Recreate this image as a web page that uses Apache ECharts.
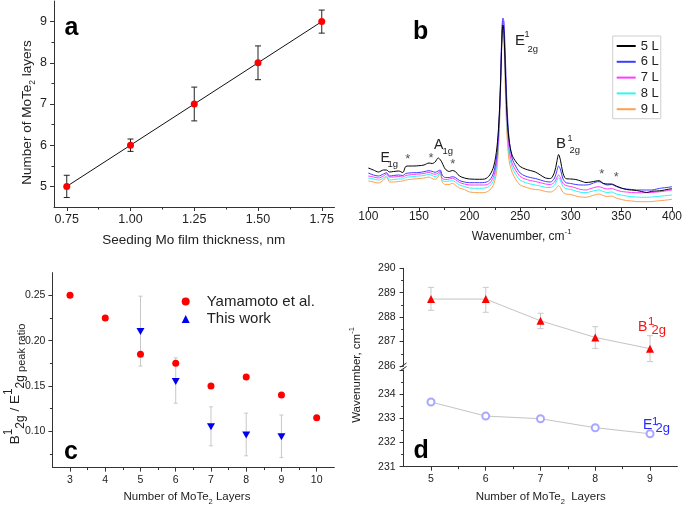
<!DOCTYPE html>
<html>
<head>
<meta charset="utf-8">
<script src="https://cdn.jsdelivr.net/npm/echarts@6/dist/echarts.min.js"></script>
<style>
html,body{margin:0;padding:0;background:#fff;}
#chart{width:685px;height:506px;}
</style>
</head>
<body>
<div id="chart"></div>
<script>
// ---------- Panel a ----------
const aThickness = [0.75, 1.00, 1.25, 1.50, 1.75];
const aLayers = [5, 6, 7, 8, 9];
const aError = [0.27, 0.15, 0.41, 0.41, 0.28];
const aXTicks = [0.75, 1.00, 1.25, 1.50, 1.75];
const aXMinor = [0.875, 1.125, 1.375, 1.625];
const aYTicks = [5, 6, 7, 8, 9];
const aYMinor = [5.5, 6.5, 7.5, 8.5];

// ---------- Panel b (Raman spectra, arbitrary intensity) ----------
const bWave = [100,105,110,115,118,121,125,130,134,137,140,145,150,155,160,163,166,169,171,173,176,180,183,186,190,195,200,210,215,220,224,227,229,230.5,232,233,234,235.5,237,239,242,246,250,255,260,265,270,275,280,284,286,288,290,292,295,300,305,310,315,320,325,328,332,336,340,345,350,355,360,365,370,375,380,385,390,395,400];
const b5L = [39,37,35,37,37,35,35.5,36,34.5,40.5,41,41,41.3,42,44,43.5,45,49,47.5,44,38,35.5,36.5,35.5,31,29,28,27.7,28,32,41,59,85,119,167,182,174,132,92,67,52,45,40.5,38,36.5,35,32,29,28.5,35,44,52.5,46,35,28.5,28,27.5,26,24.5,25,26,26.3,23.7,23,23,21,19,17.5,17,16.5,15.5,14.5,15.7,16,16.5,17.5,18.3];
const b6L = [34,32,31,33,34.3,31,31.5,32,31.5,33.5,34,34.3,34.5,35.3,36.3,35.7,34.7,36,37,32,29.5,29.5,30.3,29.5,26.5,25,24.3,24.3,24.5,27,35,52,82,122,177,189,185,147,102,69,49,40,34,31,29.5,28.5,27,25.5,25,29,35,41,37,29,24.5,23.5,22.5,22,22,23,25,25.3,23.5,22,22.5,20.5,18.7,18,17.5,17,17,17,17,18,19,19.5,20.3];
const b7L = [31,30,29,31,33,30,30,30.5,30,31.5,32,32.5,33,33.5,34.7,33.5,32.7,34,36,29,27.5,28,28.7,27.5,24.5,23,22,22,22,24,31,47,77,117,174,186,179,132,89,59,44,36,30.5,28,26.5,25.5,24.3,23,22.5,25,29,32,29,24,21.5,20.5,19,17.5,17,18.5,20,20.3,19,18,18.5,17,15.5,15,14.5,14.3,14.3,14.3,14.5,15,15.5,16.3,17];
const b8L = [29,28,27,29,31,27,27.5,28,28,29.5,30,30.5,31,31.5,32.7,31.5,30.3,32,35.3,27,25.5,26,26.3,25,22,20.5,19,18.7,19,21,27,43,72,115,172,184,175,125,82,54,40,32,27,24.5,23,22,21,19.7,19.5,22,26,29.3,26,21,18.5,17.5,16,14.7,14.3,15.5,16.7,17,15.5,14.5,15,13,12,11,10.3,10,9.7,9.7,10,10.5,11,11.5,12];
const b9L = [26,25,24,27,30,25,25,25.5,26,27,27.5,28,28.5,29,30,28.5,27.7,30,34.7,25,22.5,22.5,23.7,22,19,17.5,15,14.3,14.5,17,23,37,67,109,169,181,167,112,72,47,35,27,22,20,18.5,17.5,17,15.5,15,17,19.5,21.3,19,15,13,12.5,11,10,9.7,11,12.5,13,11.5,10.5,11,9,7.5,6.5,6,5.5,5.3,5.3,5.5,6,6.5,7,7.7];
const bNames = ['5 L', '6 L', '7 L', '8 L', '9 L'];
const bColors = ['#000000', '#3d3dff', '#ff3cff', '#2ff5f5', '#ffa050'];

// ---------- Panel c ----------
const cYamaLayers = [3, 4, 5, 6, 7, 8, 9, 10];
const cYamaRatio = [0.250, 0.225, 0.185, 0.175, 0.150, 0.160, 0.140, 0.115];
const cWorkLayers = [5, 6, 7, 8, 9];
const cWorkRatio = [0.210, 0.155, 0.105, 0.096, 0.094];
const cWorkHigh = [0.249, 0.181, 0.127, 0.120, 0.118];
const cWorkLow = [0.172, 0.131, 0.084, 0.073, 0.071];
const cXTicks = [3, 4, 5, 6, 7, 8, 9, 10];
const cXMinor = [3.5, 4.5, 5.5, 6.5, 7.5, 8.5, 9.5];
const cYTicks = [0.10, 0.15, 0.20, 0.25];
const cYMinor = [0.075, 0.125, 0.175, 0.225];

// ---------- Panel d ----------
const dLayers = [5, 6, 7, 8, 9];
const dB = [288.74, 288.74, 287.85, 287.17, 286.71];
const dBHigh = [289.22, 289.22, 288.16, 287.61, 287.24];
const dBLow = [288.28, 288.20, 287.53, 286.72, 286.18];
const dE = [233.67, 233.09, 232.98, 232.61, 232.36];
const dXTicks = [5, 6, 7, 8, 9];
const dXMinor = [5.5, 6.5, 7.5, 8.5];

const FONT = 'Liberation Sans, Arial, sans-serif';
const AX = '#333';

function errBars(color, cap, width) {
  return function (params, api) {
    const x = api.value(0);
    const top = api.coord([x, api.value(2)]);
    const bot = api.coord([x, api.value(1)]);
    const st = { stroke: color, lineWidth: width };
    return {
      type: 'group',
      children: [
        { type: 'line', shape: { x1: top[0], y1: top[1], x2: bot[0], y2: bot[1] }, style: st },
        { type: 'line', shape: { x1: top[0] - cap, y1: top[1], x2: top[0] + cap, y2: top[1] }, style: st },
        { type: 'line', shape: { x1: bot[0] - cap, y1: bot[1], x2: bot[0] + cap, y2: bot[1] }, style: st }
      ]
    };
  };
}

function mainAxis(grid, pos, min, max, ticks, fontSize, margin, fmt) {
  return {
    type: 'value', gridIndex: grid, position: pos, min: min, max: max,
    axisLine: { show: true, onZero: false, lineStyle: { color: AX, width: 1 } },
    axisTick: { show: true, inside: false, length: 4, customValues: ticks, lineStyle: { color: AX } },
    axisLabel: { show: true, customValues: ticks, fontSize: fontSize, fontFamily: FONT, color: '#222', margin: margin, formatter: fmt },
    splitLine: { show: false }
  };
}
function minorAxis(grid, pos, min, max, ticks) {
  return {
    type: 'value', gridIndex: grid, position: pos, min: min, max: max,
    axisLine: { show: false },
    axisTick: { show: true, inside: false, length: 2.5, customValues: ticks, lineStyle: { color: AX } },
    axisLabel: { show: false },
    splitLine: { show: false }
  };
}

const xAxis = [
  mainAxis(0, 'bottom', 0.7, 1.8, aXTicks, 12.5, 6, v => v.toFixed(2)),
  minorAxis(0, 'bottom', 0.7, 1.8, aXMinor),
  {
    type: 'value', gridIndex: 1, position: 'bottom', min: 100, max: 400, interval: 50,
    axisLine: { show: true, onZero: false, lineStyle: { color: AX } },
    axisTick: { show: true, inside: false, length: 4, lineStyle: { color: AX } },
    minorTick: { show: true, splitNumber: 2, length: 3, lineStyle: { color: AX } },
    axisLabel: { fontSize: 12, fontFamily: FONT, color: '#222', margin: 4 },
    splitLine: { show: false }
  },
  mainAxis(2, 'bottom', 2.5, 10.5, cXTicks, 10.5, 7, v => String(v)),
  minorAxis(2, 'bottom', 2.5, 10.5, cXMinor),
  { type: 'value', gridIndex: 3, position: 'bottom', min: 4.5, max: 9.5, show: false },
  mainAxis(4, 'bottom', 4.5, 9.5, dXTicks, 10.5, 7, v => String(v)),
  minorAxis(4, 'bottom', 4.5, 9.5, dXMinor)
];

const yAxis = [
  mainAxis(0, 'left', 4.5, 9.5, aYTicks, 12.5, 7, v => String(v)),
  minorAxis(0, 'left', 4.5, 9.5, aYMinor),
  { type: 'value', gridIndex: 1, min: 0, max: 197, show: false },
  mainAxis(2, 'left', 0.06, 0.275, cYTicks, 10.5, 7, v => v.toFixed(2)),
  minorAxis(2, 'left', 0.06, 0.275, cYMinor),
  {
    type: 'value', gridIndex: 3, position: 'left', min: 286, max: 290, interval: 1,
    axisLine: { show: true, onZero: false, lineStyle: { color: AX } },
    axisTick: { show: true, inside: false, length: 4, lineStyle: { color: AX } },
    minorTick: { show: true, splitNumber: 2, length: 2.5, lineStyle: { color: AX } },
    axisLabel: { fontSize: 10.5, fontFamily: FONT, color: '#222', margin: 8 },
    splitLine: { show: false }
  },
  {
    type: 'value', gridIndex: 4, position: 'left', min: 231, max: 235, interval: 1,
    axisLine: { show: true, onZero: false, lineStyle: { color: AX } },
    axisTick: { show: true, inside: false, length: 4, lineStyle: { color: AX } },
    minorTick: { show: true, splitNumber: 2, length: 2.5, lineStyle: { color: AX } },
    axisLabel: { fontSize: 10.5, fontFamily: FONT, color: '#222', margin: 8, showMaxLabel: false },
    splitLine: { show: false }
  }
];

const grid = [
  { left: 54, top: 1, width: 280.5, height: 206 },
  { left: 368.3, top: 10, width: 308.4, height: 197 },
  { left: 52.4, top: 272.6, width: 281.9, height: 195 },
  { left: 403.6, top: 268.3, width: 273.8, height: 97.7 },
  { left: 403.6, top: 369.8, width: 273.8, height: 96.9 }
];

const bSeries = [b5L, b6L, b7L, b8L, b9L].map((arr, i) => ({
  name: bNames[i], type: 'line', xAxisIndex: 2, yAxisIndex: 2,
  symbol: 'none', smooth: 0.3, z: 10 - i,
  lineStyle: { color: bColors[i], width: 1 },
  itemStyle: { color: bColors[i] },
  data: bWave.map((w, k) => [w, arr[k]])
}));

const series = [
  {
    type: 'custom', xAxisIndex: 0, yAxisIndex: 0, z: 3,
    renderItem: errBars('#222', 3, 1),
    encode: { x: 0, y: [1, 2] },
    data: aThickness.map((x, i) => [x, aLayers[i] - aError[i], aLayers[i] + aError[i]])
  },
  {
    type: 'line', xAxisIndex: 0, yAxisIndex: 0, z: 4,
    symbol: 'circle', symbolSize: 7,
    lineStyle: { color: '#111', width: 1 },
    itemStyle: { color: '#ff0000' },
    data: aThickness.map((x, i) => [x, aLayers[i]])
  },
  ...bSeries,
  {
    name: 'Yamamoto et al.', type: 'scatter', xAxisIndex: 3, yAxisIndex: 3,
    symbol: 'circle', symbolSize: 7, itemStyle: { color: '#ff0000', opacity: 1 }, z: 4,
    data: cYamaLayers.map((x, i) => [x, cYamaRatio[i]])
  },
  {
    type: 'custom', xAxisIndex: 3, yAxisIndex: 3, z: 2,
    renderItem: errBars('#c8c8c8', 2, 1),
    encode: { x: 0, y: [1, 2] },
    data: cWorkLayers.map((x, i) => [x, cWorkLow[i], cWorkHigh[i]])
  },
  {
    name: 'This work', type: 'scatter', xAxisIndex: 3, yAxisIndex: 3,
    symbol: 'triangle', symbolRotate: 180, symbolSize: [8, 7], z: 4,
    itemStyle: { color: '#0000ee', opacity: 1 },
    data: cWorkLayers.map((x, i) => [x, cWorkRatio[i]])
  },
  {
    type: 'custom', xAxisIndex: 5, yAxisIndex: 5, z: 2,
    renderItem: errBars('#c8c8c8', 3, 1),
    encode: { x: 0, y: [1, 2] },
    data: dLayers.map((x, i) => [x, dBLow[i], dBHigh[i]])
  },
  {
    type: 'line', xAxisIndex: 5, yAxisIndex: 5, z: 4,
    symbol: 'triangle', symbolSize: 8,
    lineStyle: { color: '#c4c4c4', width: 1 },
    itemStyle: { color: '#ff0000' },
    data: dLayers.map((x, i) => [x, dB[i]])
  },
  {
    type: 'line', xAxisIndex: 6, yAxisIndex: 6, z: 4,
    symbol: 'emptyCircle', symbolSize: 7,
    lineStyle: { color: '#c4c4c4', width: 1 },
    itemStyle: { color: '#a8a8ff', borderWidth: 1 },
    data: dLayers.map((x, i) => [x, dE[i]])
  }
];

const legend = [
  {
    data: bNames, orient: 'vertical', left: 612.7, top: 36,
    padding: [3.5, 2, 3, 3], itemGap: 2.8, itemWidth: 19, itemHeight: 14,
    borderColor: '#cfcfcf', borderWidth: 1, backgroundColor: '#fff',
    itemStyle: { opacity: 0 },
    textStyle: { fontSize: 13, fontFamily: FONT, color: '#222' }
  },
  {
    data: ['Yamamoto et al.', 'This work'], orient: 'vertical', left: 181.7, top: 294,
    padding: 0, itemGap: 2.6, itemWidth: 8, itemHeight: 8,
    symbolKeepAspect: true, symbolRotate: 'inherit',
    textStyle: { fontSize: 15, fontFamily: FONT, color: '#222', padding: [0, 0, 0, 12] }
  }
];

function txt(x, y, text, size, opts) {
  opts = opts || {};
  return {
    type: 'text', x: x, y: y, rotation: opts.rot || 0, z: 50,
    style: {
      text: text, fontSize: size, fontFamily: FONT, fontWeight: opts.bold ? 'bold' : 'normal',
      fill: opts.color || '#222', align: opts.align || 'left', verticalAlign: 'middle',
      rich: opts.rich
    }
  };
}
const richBase = (n, s) => ({
  n: { fontSize: n, fontFamily: FONT, fill: '#222', lineHeight: n + 6, verticalAlign: 'middle' },
  s: { fontSize: s, fontFamily: FONT, fill: '#222', lineHeight: s + 1, verticalAlign: 'bottom' },
  p: { fontSize: s, fontFamily: FONT, fill: '#222', lineHeight: s + 1, verticalAlign: 'top' }
});

const graphic = [
  // panel letters
  txt(64.5, 28, 'a', 25, { bold: true, color: '#000' }),
  txt(413, 32.5, 'b', 25, { bold: true, color: '#000' }),
  txt(64, 452, 'c', 25, { bold: true, color: '#000' }),
  txt(413.5, 451.5, 'd', 25, { bold: true, color: '#000' }),
  // panel a titles
  txt(27.5, 112.5, '{n|Number of MoTe}{s|2}{n| layers}', 13.5, { rot: Math.PI / 2, align: 'center', rich: richBase(13.5, 8.5) }),
  txt(193.8, 240, 'Seeding Mo film thickness, nm', 13.5, { align: 'center' }),
  // panel b
  txt(521.7, 236.5, '{n|Wavenumber, cm}{p|-1}', 12, { align: 'center', rich: richBase(12, 8) }),
  txt(380.5, 158.5, 'E', 14), txt(387.5, 164.5, '1g', 9.5),
  txt(434, 145, 'A', 14), txt(442.5, 151.5, '1g', 9.5),
  txt(515, 41, 'E', 15), txt(524.5, 35, '1', 9), txt(527.5, 49, '2g', 9.5),
  txt(556, 144, 'B', 15), txt(567.5, 139, '1', 9), txt(569.5, 150.5, '2g', 9.5),
  txt(407.7, 159.5, '*', 13, { align: 'center', color: '#555' }),
  txt(431, 158, '*', 13, { align: 'center', color: '#555' }),
  txt(452.7, 164.5, '*', 13, { align: 'center', color: '#555' }),
  txt(601.7, 174.5, '*', 13, { align: 'center', color: '#555' }),
  txt(616.3, 177, '*', 13, { align: 'center', color: '#555' }),
  // panel c titles
  txt(15, 384, '{n|B}{p|1}{s|2g}{n| / E}{p|1}{s|2g}{r| peak ratio}', 13, {
    rot: Math.PI / 2, align: 'center',
    rich: {
      n: { fontSize: 13.5, fontFamily: FONT, fill: '#222', lineHeight: 24, verticalAlign: 'middle' },
      p: { fontSize: 12, fontFamily: FONT, fill: '#222', lineHeight: 13, verticalAlign: 'top' },
      s: { fontSize: 12, fontFamily: FONT, fill: '#222', lineHeight: 13, verticalAlign: 'bottom' },
      r: { fontSize: 11, fontFamily: FONT, fill: '#222', lineHeight: 20, verticalAlign: 'bottom' }
    }
  }),
  txt(187, 497, '{n|Number of MoTe}{s|2}{n| Layers}', 11.5, { align: 'center', rich: richBase(11.5, 7.5) }),
  // panel d titles
  txt(356.7, 375, '{n|Wavenumber, cm}{p|-1}', 11.5, { rot: Math.PI / 2, align: 'center', rich: richBase(11.5, 7.5) }),
  txt(540.7, 496.7, '{n|Number of MoTe}{s|2}{n|  Layers}', 11.5, { align: 'center', rich: richBase(11.5, 7.5) }),
  txt(638, 327, 'B', 14, { color: '#ff1010' }), txt(648, 321.5, '1', 11.5, { color: '#ff1010' }), txt(651.5, 330, '2g', 13, { color: '#ff1010' }),
  txt(643, 425.5, 'E', 14, { color: '#2a2aff' }), txt(652, 421.5, '1', 11.5, { color: '#2a2aff' }), txt(655.5, 428.5, '2g', 13, { color: '#2a2aff' }),
  // axis break mark in panel d
  { type: 'line', z: 50, shape: { x1: 400.5, y1: 367, x2: 406.5, y2: 363 }, style: { stroke: '#333', lineWidth: 1 } },
  { type: 'line', z: 50, shape: { x1: 400.5, y1: 370.5, x2: 406.5, y2: 366.5 }, style: { stroke: '#333', lineWidth: 1 } }
];

const chart = echarts.init(document.getElementById('chart'), null, { renderer: 'canvas' });
chart.setOption({
  animation: false,
  backgroundColor: '#ffffff',
  textStyle: { fontFamily: FONT },
  grid: grid,
  xAxis: xAxis,
  yAxis: yAxis,
  legend: legend,
  series: series,
  graphic: graphic
});
</script>
</body>
</html>
